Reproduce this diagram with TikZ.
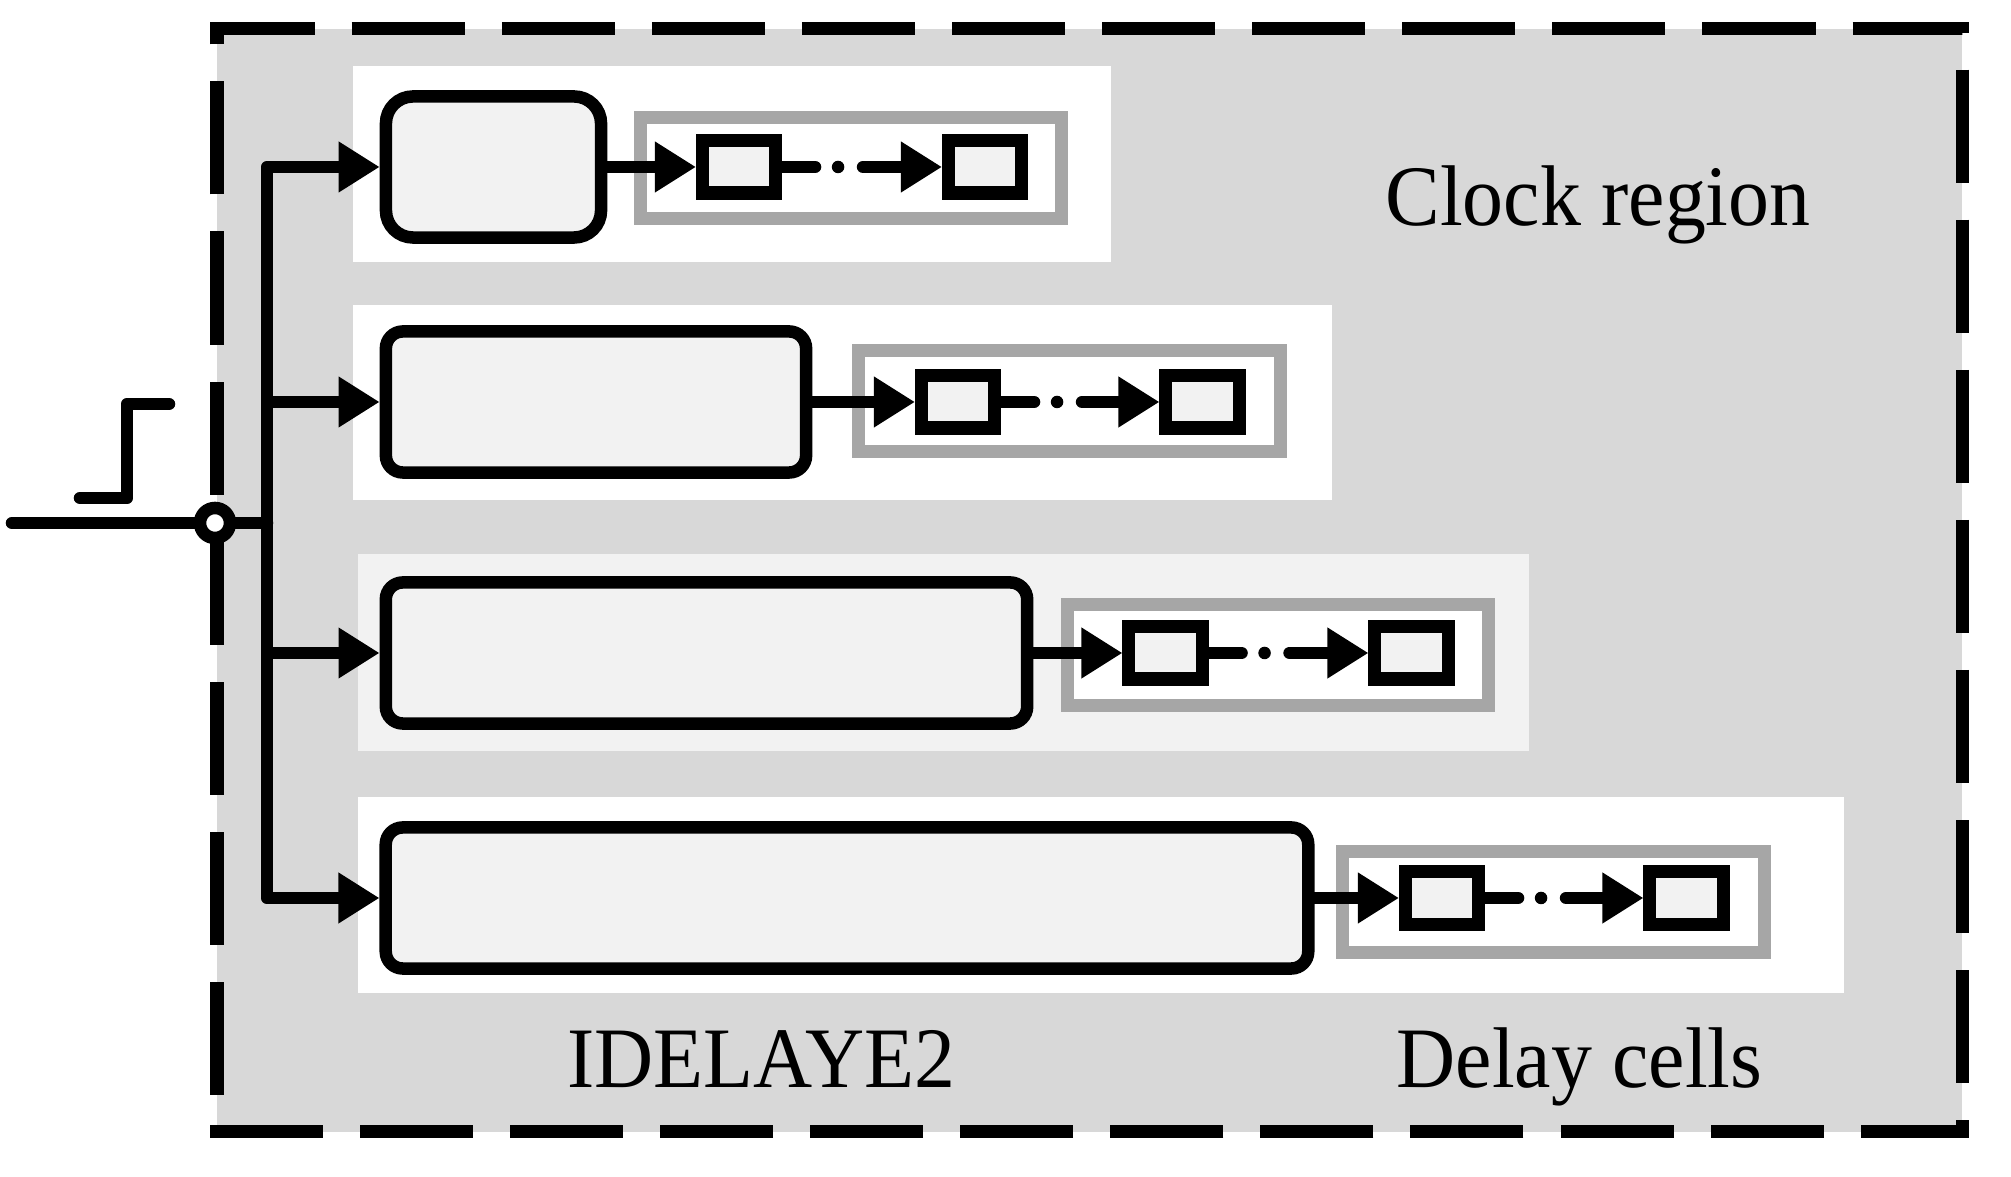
\documentclass[tikz,border=0pt]{standalone}
\usepackage{fontspec}
\newfontfamily\lblfont[FakeStretch=0.95]{Liberation Serif}
\usetikzlibrary{arrows.meta}
\definecolor{regiongray}{HTML}{D8D8D8}
\definecolor{cellgray}{HTML}{F2F2F2}
\definecolor{grpgray}{HTML}{A6A6A6}

\begin{document}
\begin{tikzpicture}[x=0.01cm, y=-0.01cm,
    wire/.style={line width=0.125cm, line cap=round, line join=round},
    sig/.style={wire, -{Triangle[length=0.41cm, width=0.48cm]}},
    chain/.style={sig, dash pattern=on 0.33cm off 0.23cm on 0cm off 0.25cm on 6cm},
    idbox/.style={draw, line width=0.125cm, fill=cellgray, rounded corners=0.17cm, minimum height=1.41cm, inner sep=0pt},
    cellgrp/.style={draw=grpgray, line width=0.13cm, fill=white, minimum width=4.21cm, minimum height=1.0cm, inner sep=0pt},
    cell/.style={draw, line width=0.13cm, fill=cellgray, minimum width=0.73cm, minimum height=0.52cm, inner sep=0pt},
    lbl/.style={font=\lblfont\fontsize{24.5}{29}\selectfont, anchor=base, inner sep=0pt}]
    \useasboundingbox (0,0) rectangle (2011,1177);
    \fill[regiongray] (217,29) rectangle (1962,1132);
    \fill[white] (353,66) rectangle (1111,262);
    \fill[white] (353,305) rectangle (1332,500);
    \fill[cellgray] (358,554) rectangle (1529,751);
    \fill[white] (358,797) rectangle (1844,993);
    \draw[line width=0.13cm, dash pattern=on 1.13cm off 0.37cm, dash phase=1.32cm] (217,1113) -- (217,29) -- (1962,29) -- (1962,1132) -- (217,1132) -- cycle;

    \node[idbox, minimum width=2.15cm, rounded corners=0.27cm] (idl1) at (493.5,167) {};
    \node[idbox, minimum width=4.20cm] (idl2) at (596,402) {};
    \node[idbox, minimum width=6.41cm] (idl3) at (706.5,653) {};
    \node[idbox, minimum width=9.22cm] (idl4) at (847,898) {};

    \node[cellgrp] (grp1) at (851,168) {};
    \node[cellgrp] (grp2) at (1069.5,401) {};
    \node[cellgrp] (grp3) at (1278,655) {};
    \node[cellgrp] (grp4) at (1553.5,902) {};

    \node[cell] (ca1) at (739,167) {};
    \node[cell] (cb1) at (985,167) {};
    \node[cell] (ca2) at (958,402) {};
    \node[cell] (cb2) at (1202.5,402) {};
    \node[cell] (ca3) at (1165.5,653) {};
    \node[cell] (cb3) at (1411.5,653) {};
    \node[cell] (ca4) at (1442,898) {};
    \node[cell] (cb4) at (1686.5,898) {};

    \draw[sig] (idl1.east) -- (ca1.west);
    \draw[chain] (ca1.east) -- (cb1.west);
    \draw[sig] (idl2.east) -- (ca2.west);
    \draw[chain] (ca2.east) -- (cb2.west);
    \draw[sig] (idl3.east) -- (ca3.west);
    \draw[chain] (ca3.east) -- (cb3.west);
    \draw[sig] (idl4.east) -- (ca4.west);
    \draw[chain] (ca4.east) -- (cb4.west);

    \coordinate (src) at (12,523);
    \coordinate (split) at (267,523);
    \node[circle, draw, line width=0.125cm, fill=white, minimum size=0.30cm, inner sep=0pt] (tap) at (215,523) {};
    \draw[wire] (src) -- (tap);
    \draw[wire] (tap) -- (split);
    \draw[sig] (split) |- (idl1.west);
    \draw[sig] (split) |- (idl2.west);
    \draw[sig] (split) |- (idl3.west);
    \draw[sig] (split) |- (idl4.west);
    \draw[wire] (80,498) -- (127,498) -- (127,404) -- (169,404);

    \node[lbl] (clk) at (1598,226) {Clock region};
    \node[lbl] (idl) at (761,1088) {IDELAYE2};
    \node[lbl] (dly) at (1579.5,1088) {Delay cells};
\end{tikzpicture}
\end{document}
